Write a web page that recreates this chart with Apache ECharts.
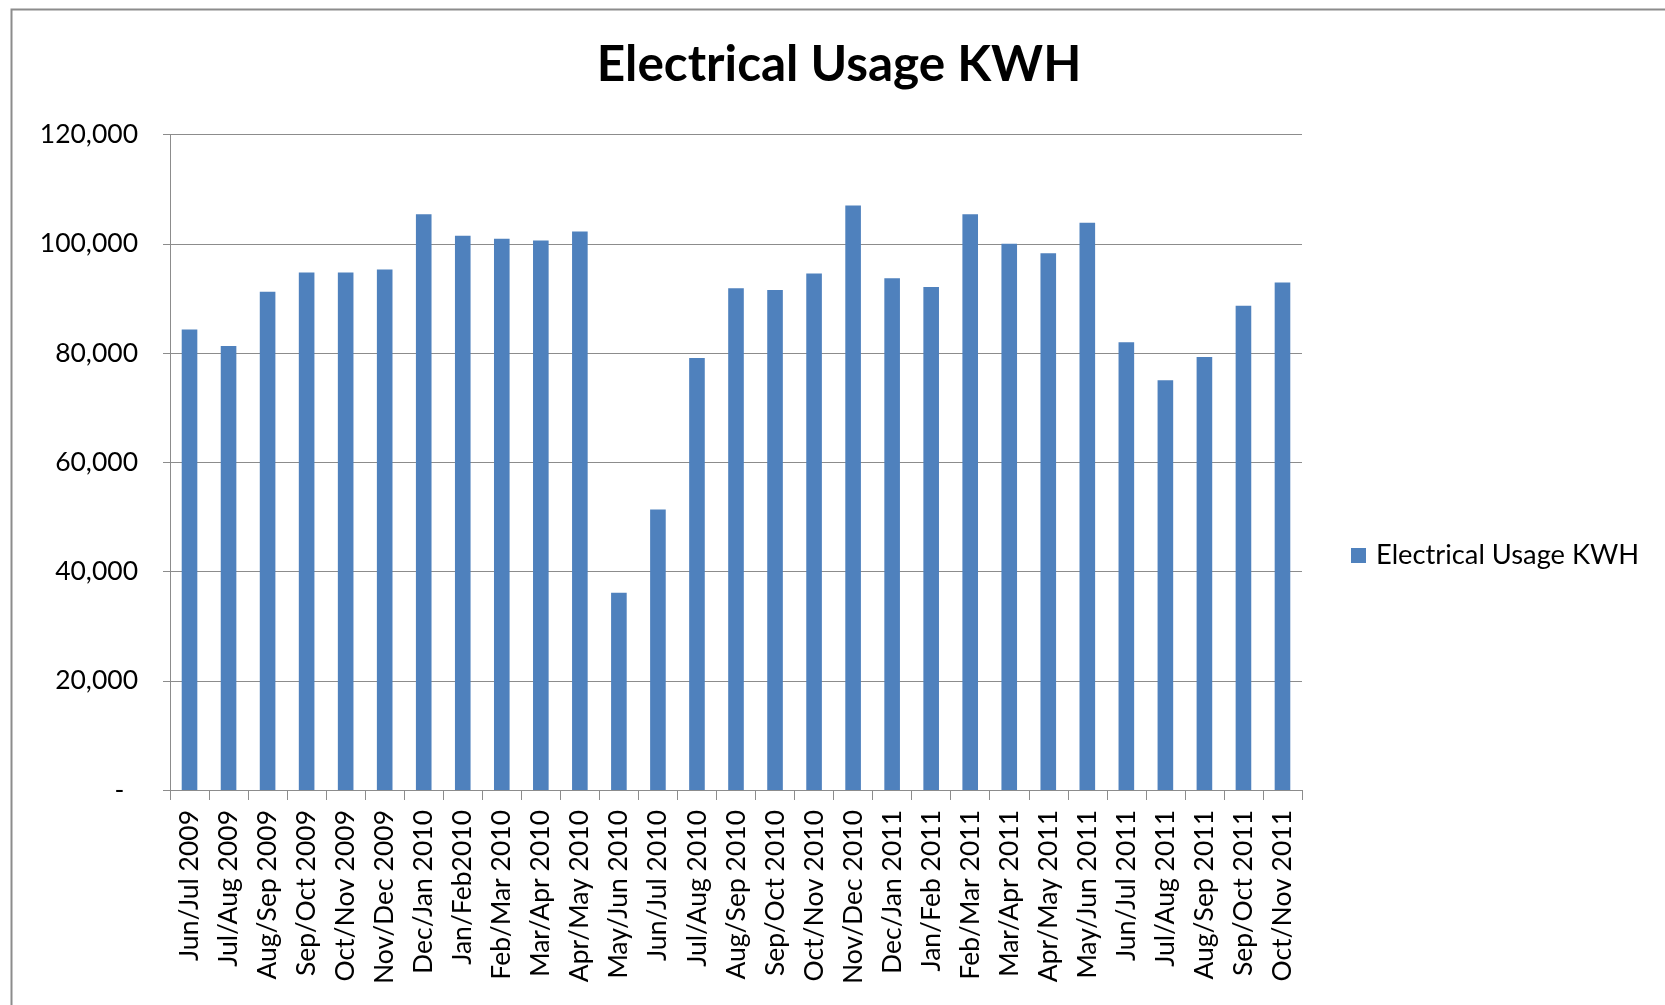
<!DOCTYPE html>
<html>
<head>
<meta charset="utf-8">
<script src="https://cdn.jsdelivr.net/npm/echarts@6/dist/echarts.min.js"></script>
<style>
html,body{margin:0;padding:0;background:#fff;}
#chart{width:1665px;height:1005px;}
</style>
</head>
<body>
<div id="chart"></div>
<script>
const categories = ["Jun/Jul 2009","Jul/Aug 2009","Aug/Sep 2009","Sep/Oct 2009","Oct/Nov 2009","Nov/Dec 2009","Dec/Jan 2010","Jan/Feb2010","Feb/Mar 2010","Mar/Apr 2010","Apr/May 2010","May/Jun 2010","Jun/Jul 2010","Jul/Aug 2010","Aug/Sep 2010","Sep/Oct 2010","Oct/Nov 2010","Nov/Dec 2010","Dec/Jan 2011","Jan/Feb 2011","Feb/Mar 2011","Mar/Apr 2011","Apr/May 2011","May/Jun 2011","Jun/Jul 2011","Jul/Aug 2011","Aug/Sep 2011","Sep/Oct 2011","Oct/Nov 2011"];
const usageKWH = [84300,81300,91200,94750,94750,95300,105400,101450,100900,100600,102250,36100,51350,79100,91850,91550,94550,107000,93700,92100,105400,100000,98250,103850,81950,75000,79250,88650,92900];
const seriesName = "Electrical Usage KWH";
const titleText = "Electrical Usage KWH";
const yMin = 0, yMax = 120000, yStep = 20000;

const chart = echarts.init(document.getElementById('chart'), null, {renderer:'canvas'});
const FONT = 'Lato';
const gray = '#8c8c8c';
chart.setOption({
  backgroundColor: '#ffffff',
  animation: false,
  graphic: [{
    type: 'rect', left: 9, top: 7, silent: true,
    shape: {x: 0, y: 0, width: 1700, height: 1100},
    style: {fill: 'none', stroke: gray, lineWidth: 2}
  }],
  title: {
    text: titleText, left: 834, top: 35, textAlign: 'center',
    textStyle: {fontFamily: FONT, fontWeight: 'bold', fontSize: 49.5, color: '#000'}
  },
  legend: {
    data: [seriesName], left: 1346, top: 537, itemWidth: 15, itemHeight: 15, itemGap: 8,
    icon: 'rect',
    textStyle: {fontFamily: FONT, fontSize: 27.3, color: '#000', padding: [0, 0, 0, 5]}
  },
  grid: {left: 170, right: 363, top: 134.5, bottom: 215, containLabel: false},
  xAxis: {
    type: 'category', data: categories,
    axisLine: {lineStyle: {color: gray, width: 1}},
    axisTick: {show: true, length: 10, lineStyle: {color: gray}},
    axisLabel: {rotate: 90, margin: 20, interval: 0, fontFamily: FONT, fontSize: 26.5, color: '#000'}
  },
  yAxis: {
    type: 'value', min: yMin, max: yMax, interval: yStep,
    axisLine: {show: true, lineStyle: {color: gray, width: 1}},
    axisTick: {show: true, length: 7, lineStyle: {color: gray}},
    splitLine: {lineStyle: {color: gray, width: 1}},
    axisLabel: {
      margin: 32, fontFamily: FONT, fontSize: 26.5, color: '#000',
      formatter: v => v === 0 ? '-  ' : v.toLocaleString('en-US')
    }
  },
  series: [{
    name: seriesName, type: 'bar', data: usageKWH,
    barCategoryGap: '60%',
    itemStyle: {color: '#4f81bd'}
  }]
});
</script>
</body>
</html>
